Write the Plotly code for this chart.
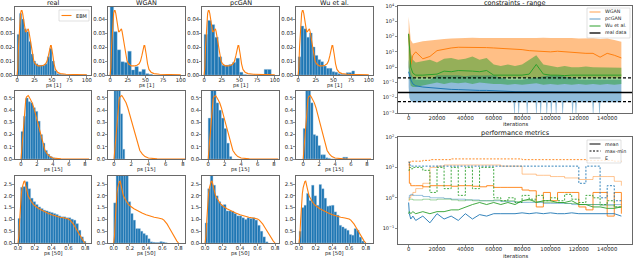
import plotly.graph_objects as go

BLUE = '#1f77b4'
ORANGE = '#ff7f0e'
GREEN = '#2ca02c'
FONT = 'DejaVu Sans'

methods = ['real', 'WGAN', 'pcGAN', 'Wu et al.']
features = ['ps [1]', 'ps [15]', 'ps [50]']

# ---------------- histogram data (bin width, heights) ----------------
h1_real = [0.029, 0.044, 0.040, 0.033, 0.031, 0.024, 0.015, 0.010, 0.008, 0.007, 0.007, 0.007, 0.008, 0.013,
           0.019, 0.010, 0.003, 0.001, 0.0005, 0.0003, 0.0002, 0.0001, 0.0001, 0.0001, 0.0, 0.0, 0.0, 0.0, 0.0, 0.0001]
h1_wgan = [0.065, 0.031, 0.018, 0.0095, 0.009, 0.017, 0.0036, 0.006, 0.0024, 0.004, 0.001, 0.0005]
h1_pcgan = [0.029, 0.039, 0.036, 0.027, 0.013, 0.007, 0.007, 0.0075, 0.009, 0.012, 0.002, 0.0003, 0.0, 0.0, 0.0,
            0.0, 0.0, 0.004, 0.004]
h1_wu = [0.013, 0.035, 0.033, 0.027, 0.030, 0.020, 0.014, 0.011, 0.0095, 0.0064, 0.0048, 0.0048, 0.0024, 0.002,
         0.001, 0.0005, 0.0005, 0.0017, 0.0017, 0.0029]
w1 = [3.33, 5.0, 5.0, 4.0]

h2_real = [0.225, 0.35, 0.50, 0.47, 0.46, 0.42, 0.39, 0.31, 0.20, 0.13, 0.07, 0.04, 0.02, 0.01, 0.005, 0.002]
h2_wgan = [0.60, 0.80, 0.70, 0.37, 0.08]
h2_pcgan = [0.335, 0.60, 0.58, 0.46, 0.40, 0.335, 0.25, 0.13, 0.02]
h2_wu = [0.25, 0.62, 0.58, 0.46, 0.20, 0.19, 0.11, 0.035, 0.035, 0.01, 0.005, 0.0, 0.0, 0.0, 0.0, 0.0, 0.015, 0.015]
w2 = [0.30, 0.25, 0.32, 0.31]

h3_real = [1.04, 2.36, 2.39, 2.60, 2.30, 1.90, 1.75, 1.63, 1.53, 1.46, 1.39, 1.36, 1.32, 1.29, 1.25, 1.21, 1.15,
           1.11, 1.11, 1.07, 1.07, 1.01, 0.97, 0.82, 0.54, 0.26, 0.07]
h3_wgan = [1.70, 3.20, 3.50, 3.40, 3.10, 2.95, 1.75, 1.25, 0.97, 0.61, 0.61, 0.50, 0.40, 0.33, 0.18, 0.05, 0.03,
           0.02, 0.02, 0.06, 0.04, 0.01]
h3_pcgan = [0.85, 2.30, 2.90, 2.45, 2.00, 1.75, 1.60, 1.63, 1.36, 1.36, 1.35, 1.25, 1.15, 1.15, 1.07, 1.00, 1.07,
            1.04, 1.07, 0.97, 0.75, 0.50, 0.26, 0.05]
h3_wu = [0.50, 1.50, 1.60, 2.10, 1.80, 2.45, 2.00, 1.60, 2.48, 2.30, 1.90, 1.56, 1.58, 1.60, 1.32, 1.18, 0.75,
         0.68, 0.61, 0.54, 0.36, 0.33, 0.61, 0.54, 0.25, 0.08]
w3 = [0.03, 0.03, 0.03, 0.03]

hists = [[h1_real, h1_wgan, h1_pcgan, h1_wu],
         [h2_real, h2_wgan, h2_pcgan, h2_wu],
         [h3_real, h3_wgan, h3_pcgan, h3_wu]]
widths = [w1, w2, w3]

# EBM density curves (same in every column of a row)
ebm1_x = [0, 1, 2, 3, 4, 5, 6, 7, 8, 9, 10, 11, 12, 13, 14, 15, 16, 17, 18, 20, 22, 24, 26, 28, 30, 34, 38, 41,
          43, 45, 47, 48, 49, 50, 51, 53, 55, 58, 62, 70, 80, 90, 100]
ebm1_y = [0.0, 0.005, 0.02, 0.032, 0.040, 0.044, 0.046, 0.046, 0.044, 0.040, 0.035, 0.032, 0.031, 0.031, 0.032,
          0.033, 0.033, 0.031, 0.028, 0.020, 0.014, 0.010, 0.008, 0.007, 0.0065, 0.0065, 0.007, 0.008, 0.010,
          0.014, 0.019, 0.021, 0.021, 0.019, 0.015, 0.008, 0.004, 0.002, 0.001, 0.0005, 0.0003, 0.0002, 0.0002]
ebm2_x = [0, 0.1, 0.2, 0.3, 0.4, 0.5, 0.6, 0.7, 0.8, 0.9, 1.0, 1.2, 1.4, 1.6, 1.8, 2.0, 2.2, 2.4, 2.6, 2.8, 3.0,
          3.3, 3.6, 4.0, 4.5, 5, 6, 7, 8, 8.5]
ebm2_y = [0, 0.08, 0.2, 0.31, 0.39, 0.45, 0.49, 0.51, 0.52, 0.52, 0.51, 0.49, 0.46, 0.42, 0.37, 0.32, 0.26, 0.2,
          0.15, 0.11, 0.07, 0.04, 0.02, 0.008, 0.003, 0.001, 0.0, 0.0, 0.0, 0.0]
ebm3_x = [0.0, 0.01, 0.02, 0.03, 0.04, 0.05, 0.06, 0.07, 0.08, 0.09, 0.1, 0.12, 0.14, 0.16, 0.18, 0.2, 0.25, 0.3,
          0.35, 0.4, 0.45, 0.5, 0.55, 0.6, 0.62, 0.64, 0.66, 0.68, 0.7, 0.72, 0.74, 0.76, 0.78, 0.8]
ebm3_y = [0.0, 0.3, 1.0, 1.7, 2.1, 2.35, 2.5, 2.6, 2.62, 2.5, 2.3, 2.0, 1.85, 1.75, 1.65, 1.58, 1.45, 1.35, 1.27,
          1.2, 1.13, 1.09, 1.06, 1.02, 0.97, 0.9, 0.8, 0.68, 0.55, 0.42, 0.3, 0.18, 0.08, 0.0]
ebms = [(ebm1_x, ebm1_y), (ebm2_x, ebm2_y), (ebm3_x, ebm3_y)]

x_ticks = [[0, 25, 50, 75, 100], [0, 2, 4, 6, 8], [0.0, 0.2, 0.4, 0.6, 0.8]]
y_ticks = [[0.0, 0.01, 0.02, 0.03, 0.04], [0.0, 0.1, 0.2, 0.3, 0.4, 0.5], [0.0, 0.5, 1.0, 1.5, 2.0, 2.5]]

# ---------------- constraints - range ----------------
it_top = [0, 500, 1500, 3000, 5000, 10000, 15000, 20000, 25000, 30000, 35000, 40000, 45000, 50000, 55000, 60000,
          65000, 70000, 75000, 80000, 85000, 90000, 95000, 100000, 105000, 110000, 115000, 120000, 125000, 130000,
          135000, 140000, 145000, 150000]
wg_med = [150, 20, 1.5, 6, 10, 3.5, 5, 12, 15, 18, 20, 20, 21, 20, 19, 18, 17, 16, 15, 14, 12, 11, 10, 10, 11, 10,
          9, 9, 8, 8, 4.5, 8, 6, 4]
wg_hi = [2000, 500, 60, 35, 40, 50, 55, 65, 70, 75, 80, 80, 85, 80, 82, 85, 80, 82, 80, 85, 82, 80, 85, 80, 82, 78,
         80, 75, 80, 78, 70, 75, 60, 45]
wg_lo = [1.0, 0.5, 0.3, 0.2, 0.2, 0.18, 0.2, 0.18, 0.2, 0.18, 0.2, 0.18, 0.2, 0.18, 0.2, 0.18, 0.2, 0.18, 0.2, 0.18,
         0.2, 0.18, 0.2, 0.18, 0.2, 0.18, 0.2, 0.18, 0.2, 0.18, 0.2, 0.18, 0.2, 0.2]
wu_med = [150, 30, 1.0, 0.4, 0.3, 0.3, 0.32, 0.35, 0.55, 0.5, 0.6, 0.6, 0.55, 0.5, 0.6, 0.3, 0.3, 0.3, 0.28, 0.3,
          0.35, 1.5, 0.35, 0.3, 0.3, 0.28, 0.3, 0.3, 0.28, 0.3, 0.3, 0.3, 0.3, 0.3]
wu_hi = [200, 100, 8, 3, 2, 2.5, 3, 2, 3.5, 4, 3, 3.5, 5, 3, 4, 1.5, 1.2, 1.5, 1.2, 1.5, 3, 6, 1.5, 1.2, 1.0, 1.2,
         1.0, 1.0, 1.1, 1.0, 1.0, 1.0, 1.0, 0.9]
wu_lo = [1.0, 0.2, 0.06, 0.05, 0.05, 0.06, 0.08, 0.1, 0.08, 0.1, 0.09, 0.1, 0.08, 0.1, 0.09, 0.08, 0.08, 0.07,
         0.08, 0.07, 0.08, 0.09, 0.07, 0.08, 0.07, 0.08, 0.07, 0.08, 0.07, 0.08, 0.07, 0.08, 0.07, 0.08]
pc_med = [0.5, 0.3, 0.15, 0.08, 0.06, 0.05, 0.045, 0.04, 0.038, 0.035, 0.034, 0.032, 0.031, 0.03, 0.03, 0.028,
          0.027, 0.026, 0.025, 0.025, 0.025, 0.024, 0.024, 0.024, 0.024, 0.023, 0.023, 0.023, 0.023, 0.023, 0.023,
          0.023, 0.023, 0.023]
pc_hi = [3, 1.5, 0.4, 0.2, 0.15, 0.15, 0.15, 0.3, 0.3, 0.28, 0.3, 0.25, 0.3, 0.28, 0.3, 0.3, 0.2, 0.15, 0.15, 0.15,
         0.18, 0.2, 0.25, 0.3, 0.3, 0.25, 0.2, 0.15, 0.15, 0.15, 0.15, 0.15, 0.15, 0.15]
pc_lo_it = [0, 500, 1500, 3000, 5000, 10000, 20000, 30000, 40000, 50000, 60000, 70000,
            74000, 74600, 75200, 77000, 77600, 78200, 83000, 83600, 84200, 89500, 90100, 90700,
            92500, 93100, 93700, 96800, 97400, 98000, 100000, 100600, 101200, 103400, 104000, 104600,
            108000, 108600, 109200, 115000, 115600, 116200, 117400, 118000, 118600, 129500, 130100, 130700,
            134000, 134600, 135200, 150000]
pc_lo = [0.05, 0.01, 0.006, 0.005, 0.005, 0.005, 0.006, 0.005, 0.006, 0.005, 0.006, 0.005,
         0.005, 0.0004, 0.005, 0.005, 0.0004, 0.005, 0.005, 0.0004, 0.005, 0.005, 0.0004, 0.005,
         0.005, 0.0004, 0.005, 0.005, 0.0004, 0.005, 0.005, 0.0004, 0.005, 0.005, 0.0004, 0.005,
         0.005, 0.0004, 0.005, 0.005, 0.0004, 0.005, 0.005, 0.0004, 0.005, 0.005, 0.0004, 0.005,
         0.005, 0.0004, 0.005, 0.005]
real_mid = 0.022
real_bounds = [0.2, 0.0055]

# ---------------- performance metrics ----------------
it_bot = it_top
wg_mm = [12, 15, 16, 16, 16, 17, 18, 18, 18, 19, 19, 19, 19, 19, 19, 19, 19, 19, 19, 18, 18, 18, 18, 18, 18, 18,
         18, 18, 17, 17, 17, 17, 16, 16]
wg_E = [0.8, 1.0, 1.2, 1.5, 2.0, 3.0, 10, 11, 12, 12, 12, 12, 12, 12, 12, 12, 11, 11, 11, 6, 6, 5.5, 5.5, 5, 5,
        4.5, 4.5, 4, 4, 5, 5, 5, 3.5, 2.5]
wg_mean = [15, 3, 2.5, 2.5, 2.5, 2.3, 2.5, 2.5, 2.5, 2.4, 2.5, 2.5, 2.4, 2.3, 2.5, 2.2, 2.2, 2.2, 2.2, 1.8, 1.7,
           0.5, 1.5, 0.8, 1.5, 1.5, 1.5, 0.5, 0.4, 1.5, 1.5, 0.25, 1.5, 0.3]
pc_mm = [15, 12, 11, 11, 11, 11, 11, 11, 11, 11, 11, 11, 11, 11, 11, 11, 11, 11, 11, 11, 11, 11, 11, 11, 11, 11,
         11, 3, 11, 11, 1.0, 2.5, 0.8, 0.8]
pc_E = [1.0, 1.2, 1.3, 1.2, 1.2, 1.1, 1.0, 1.0, 0.95, 0.9, 0.9, 0.85, 0.85, 0.8, 0.8, 0.8, 0.75, 0.75, 0.7, 0.7,
        0.7, 0.7, 0.65, 0.65, 0.65, 0.65, 0.6, 0.6, 0.6, 0.6, 0.6, 0.6, 0.6, 0.6]
pc_mean = [0.7, 0.3, 0.2, 0.25, 0.18, 0.25, 0.15, 0.3, 0.2, 0.25, 0.18, 0.3, 0.2, 0.28, 0.25, 0.3, 0.3, 0.3, 0.3,
           0.32, 0.3, 0.32, 0.3, 0.32, 0.3, 0.3, 0.32, 0.3, 0.3, 0.3, 0.3, 0.3, 0.3, 0.25]
wu_mm = [8, 10, 9, 10, 10, 8, 1.5, 10, 2, 10, 1.2, 10, 2, 10, 10, 1.0, 0.8, 1.0, 0.7, 1.2, 0.9, 1.2, 0.8, 1.0,
         0.8, 1.3, 0.9, 0.7, 1.2, 1.0, 0.6, 0.8, 0.5, 0.5]
wu_E = [0.9, 0.9, 0.9, 0.85, 0.85, 0.9, 0.85, 0.9, 0.9, 0.85, 0.8, 0.85, 0.8, 0.8, 0.8, 0.85, 0.8, 0.8, 0.75, 0.8,
        0.8, 0.75, 0.7, 0.7, 0.7, 0.65, 0.65, 0.6, 0.6, 0.6, 0.55, 0.55, 0.5, 0.5]
wu_mean = [0.3, 0.35, 0.3, 0.35, 0.3, 0.35, 0.3, 0.35, 0.35, 0.4, 0.4, 0.5, 0.6, 0.7, 0.6, 0.7, 0.6, 0.7, 0.6,
           0.8, 0.9, 0.7, 0.8, 0.8, 0.7, 0.7, 0.8, 0.6, 0.6, 0.5, 0.5, 0.45, 0.45, 0.5]

iter_ticks = [0, 20000, 40000, 60000, 80000, 100000, 120000, 140000]
top_exps = [-3, -2, -1, 0, 1, 2, 3, 4]
bot_exps = [-1, 0, 1, 2]

# ---------------- layout geometry ----------------
W, H = 640, 276
cols_px = [(15, 91), (108, 185), (202, 279), (296, 373)]
rows_px = [(7, 75), (91, 159), (176, 243)]
x_ranges = [[[-3, 106]] * 4,
            [[-0.75, 8.75], [-0.7, 8.25], [-0.75, 8.6], [-0.9, 8.75]],
            [[-0.036, 0.87], [-0.07, 0.88], [-0.035, 0.845], [-0.036, 0.886]]]
y_ranges = [[0, 0.0486], [0, 0.557], [0, 2.84]]
y_fmt = ['.2f', '.1f', '.1f']
x_fmt = ['d', 'd', '.1f']
top_box = (398, 632, 6, 113)
bot_box = (398, 632, 137, 244)
iter_range = [-7500, 157500]


def px_x(a):
    return a / W


def px_y(a):
    return 1 - a / H


AX = dict(showline=True, mirror=True, linecolor='#444', linewidth=0.8, ticks='outside', ticklen=2,
          tickwidth=0.6, tickcolor='#444', showgrid=False, zeroline=False, automargin=False,
          tickfont=dict(size=5.3, family=FONT, color='#222'), fixedrange=True, ticklabelstandoff=-2)

fig = go.Figure()
layout = {}
annotations = []
shapes = []


def ax_names(k):
    return ('xaxis' if k == 1 else f'xaxis{k}', 'yaxis' if k == 1 else f'yaxis{k}',
            'x' if k == 1 else f'x{k}', 'y' if k == 1 else f'y{k}')


k = 0
for r in range(3):
    for c in range(4):
        k += 1
        xa, ya, xr, yr = ax_names(k)
        x0, x1 = cols_px[c]
        y0, y1 = rows_px[r]
        layout[xa] = dict(AX, domain=[px_x(x0), px_x(x1)], range=x_ranges[r][c], anchor=yr,
                          tickmode='array', tickvals=x_ticks[r], tickformat=x_fmt[r])
        layout[ya] = dict(AX, domain=[px_y(y1), px_y(y0)], range=y_ranges[r], anchor=xr,
                          tickmode='array', tickvals=y_ticks[r], tickformat=y_fmt[r], ticklabelstandoff=-1)
        hts = hists[r][c]
        bw = widths[r][c]
        centers = [bw * (i + 0.5) for i in range(len(hts))]
        fig.add_trace(go.Bar(x=centers, y=hts, width=bw, xaxis=xr, yaxis=yr,
                             marker=dict(color=BLUE, line=dict(color='rgba(160,195,225,0.9)', width=0.4))))
        ex, ey = ebms[r]
        fig.add_trace(go.Scatter(x=ex, y=ey, mode='lines', xaxis=xr, yaxis=yr,
                                 line=dict(color=ORANGE, width=1.1)))
        annotations.append(dict(text=features[r], x=px_x((x0 + x1) / 2), y=px_y(y1 + 10), xref='paper',
                                yref='paper', showarrow=False, xanchor='center', yanchor='middle',
                                font=dict(size=5.3, family=FONT, color='#222')))
        if r == 0:
            annotations.append(dict(text=methods[c], x=px_x((x0 + x1) / 2), y=px_y(3), xref='paper',
                                    yref='paper', showarrow=False, xanchor='center', yanchor='middle',
                                    font=dict(size=6.5, family=FONT, color='#111')))

# EBM legend in first panel
shapes.append(dict(type='rect', xref='paper', yref='paper', x0=px_x(59), x1=px_x(89), y0=px_y(21), y1=px_y(10),
                   line=dict(color='#cccccc', width=0.6), fillcolor='rgba(255,255,255,0.8)'))
shapes.append(dict(type='line', xref='paper', yref='paper', x0=px_x(61.5), x1=px_x(71.5), y0=px_y(15.5),
                   y1=px_y(15.5), line=dict(color=ORANGE, width=1.1)))
annotations.append(dict(text='EBM', x=px_x(74), y=px_y(15.5), xref='paper', yref='paper', showarrow=False,
                        xanchor='left', yanchor='middle', font=dict(size=5, family=FONT, color='#222')))


def sup(e):
    return '10<sup>' + (str(e) if e >= 0 else '\u2212' + str(-e)) + '</sup>'


# right top
k = 13
xa, ya, xr, yr = ax_names(k)
bx0, bx1, by0, by1 = top_box
layout[xa] = dict(AX, domain=[px_x(bx0), px_x(bx1)], range=iter_range, anchor=yr, tickmode='array',
                  tickvals=iter_ticks, tickformat='d')
layout[ya] = dict(AX, domain=[px_y(by1), px_y(by0)], type='log', range=[-3, 4], anchor=xr, tickmode='array',
                  tickvals=[10.0 ** e for e in top_exps], ticktext=[sup(e) for e in top_exps],
                  tickfont=dict(size=5, family=FONT, color='#222'), ticklabelstandoff=0)


def band(xs_hi, hi, xs_lo, lo, color):
    fig.add_trace(go.Scatter(x=list(xs_hi) + list(xs_lo)[::-1], y=list(hi) + list(lo)[::-1], fill='toself',
                             fillcolor=color, mode='lines', line=dict(width=0), xaxis=xr, yaxis=yr,
                             hoverinfo='skip'))


band(it_top, wg_hi, it_top, wg_lo, 'rgba(255,127,14,0.5)')
band(it_top, pc_hi, pc_lo_it, pc_lo, 'rgba(31,119,180,0.5)')
band(it_top, wu_hi, it_top, wu_lo, 'rgba(44,160,44,0.5)')
for med, col in [(wg_med, ORANGE), (pc_med, BLUE), (wu_med, GREEN)]:
    fig.add_trace(go.Scatter(x=it_top, y=med, mode='lines', line=dict(color=col, width=1), xaxis=xr, yaxis=yr))
fig.add_trace(go.Scatter(x=iter_range, y=[real_mid, real_mid], mode='lines', line=dict(color='black', width=1.3),
                         xaxis=xr, yaxis=yr))
for b in real_bounds:
    fig.add_trace(go.Scatter(x=iter_range, y=[b, b], mode='lines',
                             line=dict(color='black', width=1.2, dash='3px,2px'), xaxis=xr, yaxis=yr))
annotations.append(dict(text='constraints - range', x=px_x((bx0 + bx1) / 2), y=px_y(2.5), xref='paper',
                        yref='paper', showarrow=False, xanchor='center', yanchor='middle',
                        font=dict(size=6.5, family=FONT, color='#111')))
annotations.append(dict(text='iterations', x=px_x((bx0 + bx1) / 2), y=px_y(by1 + 11), xref='paper',
                        yref='paper', showarrow=False, xanchor='center', yanchor='middle',
                        font=dict(size=5.3, family=FONT, color='#222')))
shapes.append(dict(type='rect', xref='paper', yref='paper', x0=px_x(587), x1=px_x(630), y0=px_y(38), y1=px_y(8),
                   line=dict(color='#cccccc', width=0.6), fillcolor='rgba(255,255,255,0.8)'))
for i, (lab, col, wd) in enumerate([('WGAN', 'rgba(255,127,14,0.6)', 1.2), ('pcGAN', 'rgba(31,119,180,0.6)', 1.2),
                                    ('Wu et al.', GREEN, 1.0), ('real data', 'black', 1.3)]):
    yy = 12 + 7 * i
    shapes.append(dict(type='line', xref='paper', yref='paper', x0=px_x(589.5), x1=px_x(600.5), y0=px_y(yy),
                       y1=px_y(yy), line=dict(color=col, width=wd)))
    annotations.append(dict(text=lab, x=px_x(603), y=px_y(yy), xref='paper', yref='paper', showarrow=False,
                            xanchor='left', yanchor='middle', font=dict(size=4.8, family=FONT, color='#222')))

# right bottom
k = 14
xa, ya, xr, yr = ax_names(k)
bx0, bx1, by0, by1 = bot_box
layout[xa] = dict(AX, domain=[px_x(bx0), px_x(bx1)], range=iter_range, anchor=yr, tickmode='array',
                  tickvals=iter_ticks, tickformat='d')
layout[ya] = dict(AX, domain=[px_y(by1), px_y(by0)], type='log', range=[-1.52, 2], anchor=xr, tickmode='array',
                  tickvals=[10.0 ** e for e in bot_exps], ticktext=[sup(e) for e in bot_exps],
                  tickfont=dict(size=5, family=FONT, color='#222'), ticklabelstandoff=0)
for series, col in [((wg_mean, wg_mm, wg_E), ORANGE), ((pc_mean, pc_mm, pc_E), BLUE), ((wu_mean, wu_mm, wu_E), GREEN)]:
    mean_v, mm_v, e_v = series
    fig.add_trace(go.Scatter(x=it_bot, y=e_v, mode='lines', opacity=0.45, line=dict(color=col, width=1, shape='hv'),
                             xaxis=xr, yaxis=yr))
    fig.add_trace(go.Scatter(x=it_bot, y=mm_v, mode='lines',
                             line=dict(color=col, width=0.9, dash='2px,1.5px', shape='hv'), xaxis=xr, yaxis=yr))
    fig.add_trace(go.Scatter(x=it_bot, y=mean_v, mode='lines',
                             line=dict(color=col, width=0.9, shape='hv' if col == ORANGE else 'linear'),
                             xaxis=xr, yaxis=yr))
annotations.append(dict(text='performance metrics', x=px_x((bx0 + bx1) / 2), y=px_y(133), xref='paper',
                        yref='paper', showarrow=False, xanchor='center', yanchor='middle',
                        font=dict(size=6.5, family=FONT, color='#111')))
annotations.append(dict(text='iterations', x=px_x((bx0 + bx1) / 2), y=px_y(by1 + 11.5), xref='paper',
                        yref='paper', showarrow=False, xanchor='center', yanchor='middle',
                        font=dict(size=5.3, family=FONT, color='#222')))
shapes.append(dict(type='rect', xref='paper', yref='paper', x0=px_x(587), x1=px_x(621), y0=px_y(163),
                   y1=px_y(140), line=dict(color='#cccccc', width=0.6), fillcolor='rgba(255,255,255,0.8)'))
for i, (lab, col, dash) in enumerate([('mean', 'black', 'solid'), ('max-min', 'black', '2px,1.5px'),
                                      ('E', '#bbbbbb', 'solid')]):
    yy = 144 + 7 * i
    shapes.append(dict(type='line', xref='paper', yref='paper', x0=px_x(589.5), x1=px_x(600.5), y0=px_y(yy),
                       y1=px_y(yy), line=dict(color=col, width=1, dash=dash)))
    annotations.append(dict(text=lab, x=px_x(603), y=px_y(yy), xref='paper', yref='paper', showarrow=False,
                            xanchor='left', yanchor='middle', font=dict(size=4.8, family=FONT, color='#222')))

fig.update_layout(width=W, height=H, margin=dict(l=0, r=0, t=0, b=0), paper_bgcolor='white',
                  plot_bgcolor='white', showlegend=False, barmode='overlay', hovermode=False,
                  font=dict(family=FONT, size=6, color='#222'), annotations=annotations, shapes=shapes,
                  **layout)
fig.write_html('out.html', config={'displayModeBar': False, 'staticPlot': True},
               post_script="document.body.style.margin='0px';document.body.style.padding='0px';")
